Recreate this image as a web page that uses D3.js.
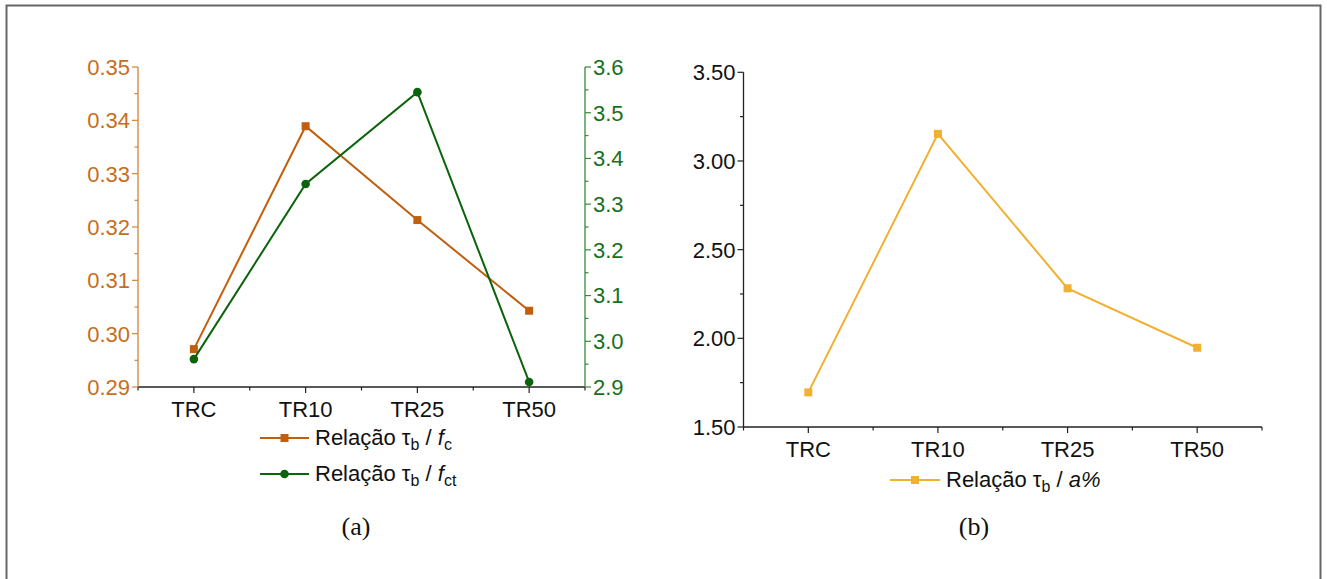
<!DOCTYPE html>
<html>
<head>
<meta charset="utf-8">
<script src="https://cdn.jsdelivr.net/npm/d3@7"></script>
<style>
  html, body { margin: 0; padding: 0; background: #fff; }
  svg { display: block; }
  text { font-family: "Liberation Sans", Arial, sans-serif; }
  text.caption { font-family: "Liberation Serif", "Times New Roman", serif; }
</style>
</head>
<body>
<svg id="fig" width="1327" height="579"></svg>
<script>
// Specimen groups
const categories = ["TRC", "TR10", "TR25", "TR50"];

// Panel (a): bond stress ratios
const ratioFc  = [0.2971, 0.3389, 0.3213, 0.3043];   // τb / fc  (left axis)
const ratioFct = [2.961, 3.344, 3.545, 2.911];       // τb / fct (right axis)
const leftTicks  = [0.29, 0.30, 0.31, 0.32, 0.33, 0.34, 0.35];
const rightTicks = [2.9, 3.0, 3.1, 3.2, 3.3, 3.4, 3.5, 3.6];

// Panel (b): τb / a%
const ratioA = [1.695, 3.153, 2.282, 1.947];
const bTicks = [1.50, 2.00, 2.50, 3.00, 3.50];

const ORANGE = "#c0600f", ORANGE_AX = "#d08535", ORANGE_TX = "#c86d20";
const GREEN = "#0b640b", GREEN_AX = "#3a8a3a", GREEN_TX = "#17701a";
const GOLD = "#f0b030";
const FS = 22;

const svg = d3.select("#fig");

// outer frame
svg.append("rect")
  .attr("x", 6.5).attr("y", 5.5).attr("width", 1314).attr("height", 600)
  .attr("fill", "none").attr("stroke", "#666").attr("stroke-width", 2);

function minorTicks(major) {
  const out = [];
  for (let i = 0; i < major.length - 1; i++) out.push((major[i] + major[i + 1]) / 2);
  return out;
}

function drawXAxis(g, x, x0, x1, y0) {
  g.append("line").attr("x1", x0).attr("x2", x1).attr("y1", y0).attr("y2", y0)
    .attr("stroke", "#222").attr("stroke-width", 1.3);
  const step = x.step();
  // major ticks at categories, minor ticks at boundaries
  categories.forEach(c => {
    g.append("line").attr("x1", x(c)).attr("x2", x(c)).attr("y1", y0).attr("y2", y0 + 6)
      .attr("stroke", "#222").attr("stroke-width", 1.2);
  });
  for (let i = 0; i <= categories.length; i++) {
    const px = x0 + i * step;
    g.append("line").attr("x1", px).attr("x2", px).attr("y1", y0).attr("y2", y0 + 3.5)
      .attr("stroke", "#222").attr("stroke-width", 1.2);
  }
  g.selectAll(null).data(categories).join("text")
    .attr("x", d => x(d)).attr("y", y0 + 30)
    .attr("text-anchor", "middle").attr("font-size", FS).attr("fill", "#111")
    .text(d => d);
}

function drawYAxis(g, y, px, ticks, side, axColor, txColor, fmt) {
  const dir = side === "left" ? -1 : 1;
  const [r0, r1] = y.range();
  g.append("line").attr("x1", px).attr("x2", px).attr("y1", r0).attr("y2", r1)
    .attr("stroke", axColor).attr("stroke-width", 1.3);
  ticks.forEach(t => {
    g.append("line").attr("x1", px).attr("x2", px + dir * 6).attr("y1", y(t)).attr("y2", y(t))
      .attr("stroke", axColor).attr("stroke-width", 1.2);
  });
  minorTicks(ticks).forEach(t => {
    g.append("line").attr("x1", px).attr("x2", px + dir * 3.5).attr("y1", y(t)).attr("y2", y(t))
      .attr("stroke", axColor).attr("stroke-width", 1.2);
  });
  g.selectAll(null).data(ticks).join("text")
    .attr("x", px + dir * 8).attr("y", d => y(d))
    .attr("dy", "0.36em")
    .attr("text-anchor", side === "left" ? "end" : "start")
    .attr("font-size", FS).attr("fill", txColor)
    .text(fmt);
}

function drawSeries(g, x, y, values, color, shape, width) {
  const line = d3.line().x((d, i) => x(categories[i])).y(d => y(d));
  g.append("path").datum(values).attr("d", line)
    .attr("fill", "none").attr("stroke", color).attr("stroke-width", width)
    .attr("stroke-linejoin", "miter");
  values.forEach((v, i) => drawMarker(g, x(categories[i]), y(v), color, shape));
}

function drawMarker(g, cx, cy, color, shape) {
  if (shape === "square") {
    g.append("rect").attr("x", cx - 4).attr("y", cy - 4).attr("width", 8).attr("height", 8)
      .attr("fill", color);
  } else {
    g.append("circle").attr("cx", cx).attr("cy", cy).attr("r", 4.3).attr("fill", color);
  }
}

function legendEntry(g, x0, x1, y0, color, shape, parts) {
  g.append("line").attr("x1", x0).attr("x2", x1).attr("y1", y0).attr("y2", y0)
    .attr("stroke", color).attr("stroke-width", 2);
  drawMarker(g, (x0 + x1) / 2, y0, color, shape);
  const t = g.append("text").attr("x", x1 + 6).attr("y", y0 + 7)
    .attr("font-size", FS).attr("fill", "#111");
  parts.forEach(p => {
    const s = t.append("tspan").text(p.t);
    if (p.sub) s.attr("font-size", 16).attr("dy", 5);
    if (p.up) s.attr("dy", -5);
    if (p.italic) s.attr("font-style", "italic");
  });
}

// ---------- Panel (a) ----------
{
  const g = svg.append("g");
  const x0 = 138, x1 = 585, yTop = 67, yBot = 387;
  const x = d3.scalePoint().domain(categories).range([x0, x1]).padding(0.5);
  const yL = d3.scaleLinear().domain([0.29, 0.35]).range([yBot, yTop]);
  const yR = d3.scaleLinear().domain([2.9, 3.6]).range([yBot, yTop]);

  drawXAxis(g, x, x0, x1, yBot);
  drawYAxis(g, yL, x0, leftTicks, "left", ORANGE_AX, ORANGE_TX, d3.format(".2f"));
  drawYAxis(g, yR, x1, rightTicks, "right", GREEN_AX, GREEN_TX, d3.format(".1f"));

  drawSeries(g, x, yL, ratioFc, ORANGE, "square", 2);
  drawSeries(g, x, yR, ratioFct, GREEN, "circle", 2);

  legendEntry(g, 260, 309, 438, ORANGE, "square", [
    { t: "Relação τ" }, { t: "b", sub: true }, { t: " / ", up: true },
    { t: "f", italic: true }, { t: "c", sub: true }
  ]);
  legendEntry(g, 260, 309, 474, GREEN, "circle", [
    { t: "Relação τ" }, { t: "b", sub: true }, { t: " / ", up: true },
    { t: "f", italic: true }, { t: "ct", sub: true }
  ]);

  g.append("text").attr("class", "caption")
    .attr("x", 356).attr("y", 535).attr("text-anchor", "middle")
    .attr("font-size", 26).attr("fill", "#111").text("(a)");
}

// ---------- Panel (b) ----------
{
  const g = svg.append("g");
  const x0 = 743.5, x1 = 1262, yTop = 72.3, yBot = 427;
  const x = d3.scalePoint().domain(categories).range([x0, x1]).padding(0.5);
  const y = d3.scaleLinear().domain([1.5, 3.5]).range([yBot, yTop]);

  drawXAxis(g, x, x0, x1, yBot);
  drawYAxis(g, y, x0, bTicks, "left", "#222", "#111", d3.format(".2f"));
  drawSeries(g, x, y, ratioA, GOLD, "square", 2);

  legendEntry(g, 890, 940, 480, GOLD, "square", [
    { t: "Relação τ" }, { t: "b", sub: true }, { t: " / ", up: true },
    { t: "a%", italic: true }
  ]);

  g.append("text").attr("class", "caption")
    .attr("x", 974).attr("y", 535).attr("text-anchor", "middle")
    .attr("font-size", 26).attr("fill", "#111").text("(b)");
}
</script>
</body>
</html>
